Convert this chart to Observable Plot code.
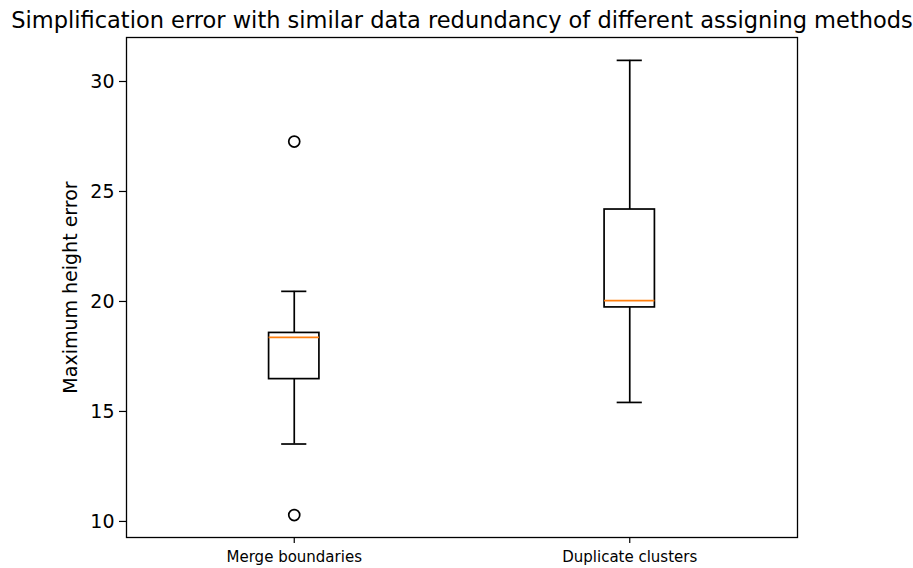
<!DOCTYPE html>
<html>
<head>
<meta charset="utf-8">
<script src="https://cdn.jsdelivr.net/npm/d3@7"></script>
<script src="https://cdn.jsdelivr.net/npm/@observablehq/plot@0.6"></script>
<style>
  html, body { margin: 0; padding: 0; background: #fff; }
  #chart svg { font-family: "DejaVu Sans", sans-serif; }
</style>
</head>
<body>
<div id="chart"></div>
<script>
const title = "Simplification error with similar data redundancy of different assigning methods";
const yLabel = "Maximum height error";
const methods = ["Merge boundaries", "Duplicate clusters"];
const whiskerLow = [13.52, 15.41];
const q1 = [16.47, 19.73];
const median = [18.37, 20.04];
const q3 = [18.57, 24.18];
const whiskerHigh = [20.46, 30.96];
const outlierMethod = [0, 0];
const outlierValue = [27.27, 10.29];
const yTicks = [10, 15, 20, 25, 30];

const rows = methods.map((m, i) => ({
  pos: i + 1, lo: whiskerLow[i], q1: q1[i], med: median[i], q3: q3[i], hi: whiskerHigh[i]
}));
const outliers = outlierValue.map((v, i) => ({pos: outlierMethod[i] + 1, v}));

const half = 0.075, capHalf = 0.0375;
const sw = 1.7;

const chart = Plot.plot({
  width: 913,
  height: 568,
  marginLeft: 126,
  marginRight: 116,
  marginTop: 37,
  marginBottom: 31,
  style: {fontFamily: "DejaVu Sans, sans-serif", background: "#fff", color: "#000", overflow: "visible"},
  x: {type: "linear", domain: [0.5, 2.5], label: null},
  y: {domain: [9.27, 32], label: null},
  marks: [
    Plot.axisX({ticks: [1, 2], tickFormat: d => methods[d - 1], tickSize: 6, tickPadding: 8, fontSize: 15, label: null, strokeWidth: 1.2}),
    Plot.axisY({ticks: yTicks, tickSize: 7, tickPadding: 5, fontSize: 19, label: null, strokeWidth: 1.2}),
    Plot.ruleX(rows, {x: "pos", y1: "q3", y2: "hi", stroke: "black", strokeWidth: sw}),
    Plot.ruleX(rows, {x: "pos", y1: "lo", y2: "q1", stroke: "black", strokeWidth: sw}),
    Plot.ruleY(rows, {y: "hi", x1: d => d.pos - capHalf, x2: d => d.pos + capHalf, stroke: "black", strokeWidth: sw}),
    Plot.ruleY(rows, {y: "lo", x1: d => d.pos - capHalf, x2: d => d.pos + capHalf, stroke: "black", strokeWidth: sw}),
    Plot.rect(rows, {x1: d => d.pos - half, x2: d => d.pos + half, y1: "q1", y2: "q3", fill: "none", stroke: "black", strokeWidth: sw}),
    Plot.ruleY(rows, {y: "med", x1: d => d.pos - half, x2: d => d.pos + half, stroke: "#ff7f0e", strokeWidth: sw}),
    Plot.dot(outliers, {x: "pos", y: "v", r: 5.5, stroke: "black", strokeWidth: sw, fill: "none"}),
    Plot.frame({stroke: "black", strokeWidth: 1.3}),
    Plot.text([title], {frameAnchor: "top", lineAnchor: "bottom", dy: -10, fontSize: 22.5, fill: "black", text: d => d}),
    Plot.text([yLabel], {frameAnchor: "left", textAnchor: "middle", dx: -56, rotate: -90, fontSize: 19, fill: "black", text: d => d})
  ]
});
document.getElementById("chart").appendChild(chart);
</script>
</body>
</html>
